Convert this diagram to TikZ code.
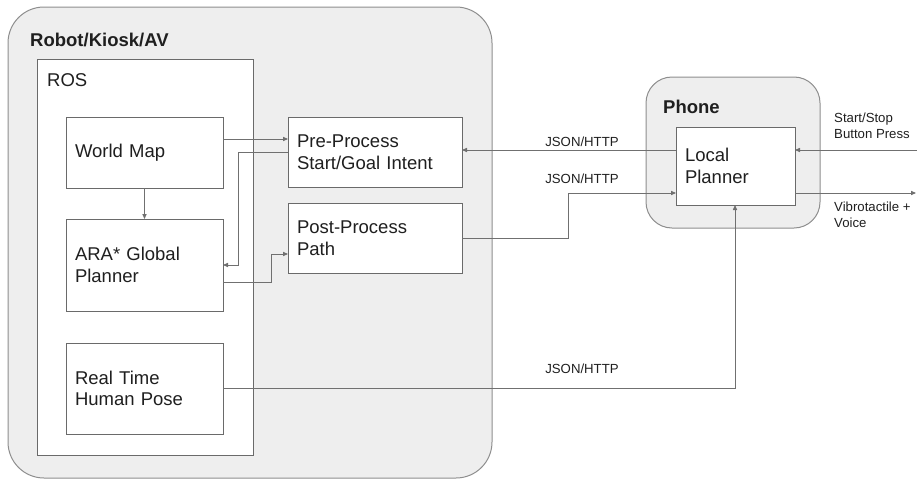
\documentclass[tikz,border=0pt]{standalone}
\usepackage{fontspec}
\setmainfont{Liberation Sans}
\usetikzlibrary{arrows.meta}
\definecolor{panelfill}{HTML}{EEEEEE}
\definecolor{panelline}{HTML}{8E8E8E}
\definecolor{boxline}{HTML}{6A6A6A}
\definecolor{wire}{HTML}{707070}
\definecolor{ink}{HTML}{1F1F1F}
\newcommand{\bigtext}{\fontsize{18.5}{21.7}\selectfont}
\newcommand{\smalltext}{\fontsize{13.2}{15.5}\selectfont}
\tikzset{
  panel/.style={draw=panelline, fill=panelfill, line width=1pt},
  container/.style={draw=boxline, fill=white, line width=0.9pt, anchor=north west,
    inner sep=0pt, outer sep=0pt},
  stepbox/.style={draw=boxline, fill=white, line width=0.9pt, anchor=north west,
    align=left, inner xsep=9pt, inner ysep=0pt, outer sep=0pt,
    font=\bigtext, text=ink},
  title/.style={anchor=west, inner sep=0pt, font=\bigtext\bfseries, text=ink},
  plain/.style={anchor=west, inner sep=0pt, font=\bigtext, text=ink},
  tag/.style={inner sep=0pt, font=\smalltext, text=ink, align=left},
  conn/.style={draw=wire, line width=0.9pt,
    -{Triangle[length=5pt,width=4.2pt]}}
}
\begin{document}
\begin{tikzpicture}[x=1pt,y=-1pt]
\useasboundingbox (0,0) rectangle (917,479);

% device panels
\node[panel, rounded corners=36pt, minimum width=484pt, minimum height=471pt,
  anchor=north west, inner sep=0pt, outer sep=0pt] (robot) at (8,7) {};
\node[panel, rounded corners=26pt, minimum width=174pt, minimum height=151pt,
  anchor=north west, inner sep=0pt, outer sep=0pt] (phone) at (646,77) {};
\node[title] (robottitle) at (30,40) {Robot/Kiosk/AV};
\node[title] (phonetitle) at (663,107) {Phone};

% ROS container
\node[container, minimum width=216pt, minimum height=396pt] (ros) at (37,59) {};
\node[plain] (roslabel) at (47,80) {ROS};

% processing blocks
\node[stepbox, text width=139pt, minimum height=71pt] (wm) at (66,117) {World Map};
\node[stepbox, text width=139pt, minimum height=92pt] (ara) at (66,219) {ARA* Global\\Planner};
\node[stepbox, text width=139pt, minimum height=91pt] (rt) at (66,343) {Real Time\\Human Pose};
\node[stepbox, text width=156pt, minimum height=70pt] (pre) at (288,117) {Pre-Process\\Start/Goal Intent};
\node[stepbox, text width=156pt, minimum height=70pt] (post) at (288,203) {Post-Process\\Path};
\node[stepbox, text width=101pt, minimum height=78pt] (lp) at (676,127) {Local\\Planner};

% free ends at the right border
\coordinate (btnin) at (917,150);
\coordinate (hapout) at (916,193);

% connectors inside the robot
\draw[conn] (wm.south) -- (ara.north);
\draw[conn] (wm.east |- 0,139) -- (pre.west |- 0,139);
\draw[conn] (pre.west |- 0,152) -- (238,152) -- (238,265) -- (ara.east |- 0,265);
\draw[conn] (ara.east |- 0,282) -- (271,282) -- (271,254) -- (post.west |- 0,254);

% links to the phone
\draw[conn] (lp.west |- 0,150) -- (pre.east |- 0,150);
\draw[conn] (post.east |- 0,238) -- (568,238) -- (568,193) -- (lp.west |- 0,193);
\draw[conn] (rt.east |- 0,388) -- (735,388) -- (lp.south -| 735,0);
\draw[conn] (btnin) -- (lp.east |- btnin);
\draw[conn] (lp.east |- hapout) -- (hapout);

% link labels
\node[tag] (j1) at (582,142) {JSON/HTTP};
\node[tag] (j2) at (582,179) {JSON/HTTP};
\node[tag] (j3) at (582,369) {JSON/HTTP};
\node[tag, anchor=west] (btnlabel) at (834,126) {Start/Stop\\Button Press};
\node[tag, anchor=west] (haplabel) at (834,215) {Vibrotactile +\\Voice};
\end{tikzpicture}
\end{document}
